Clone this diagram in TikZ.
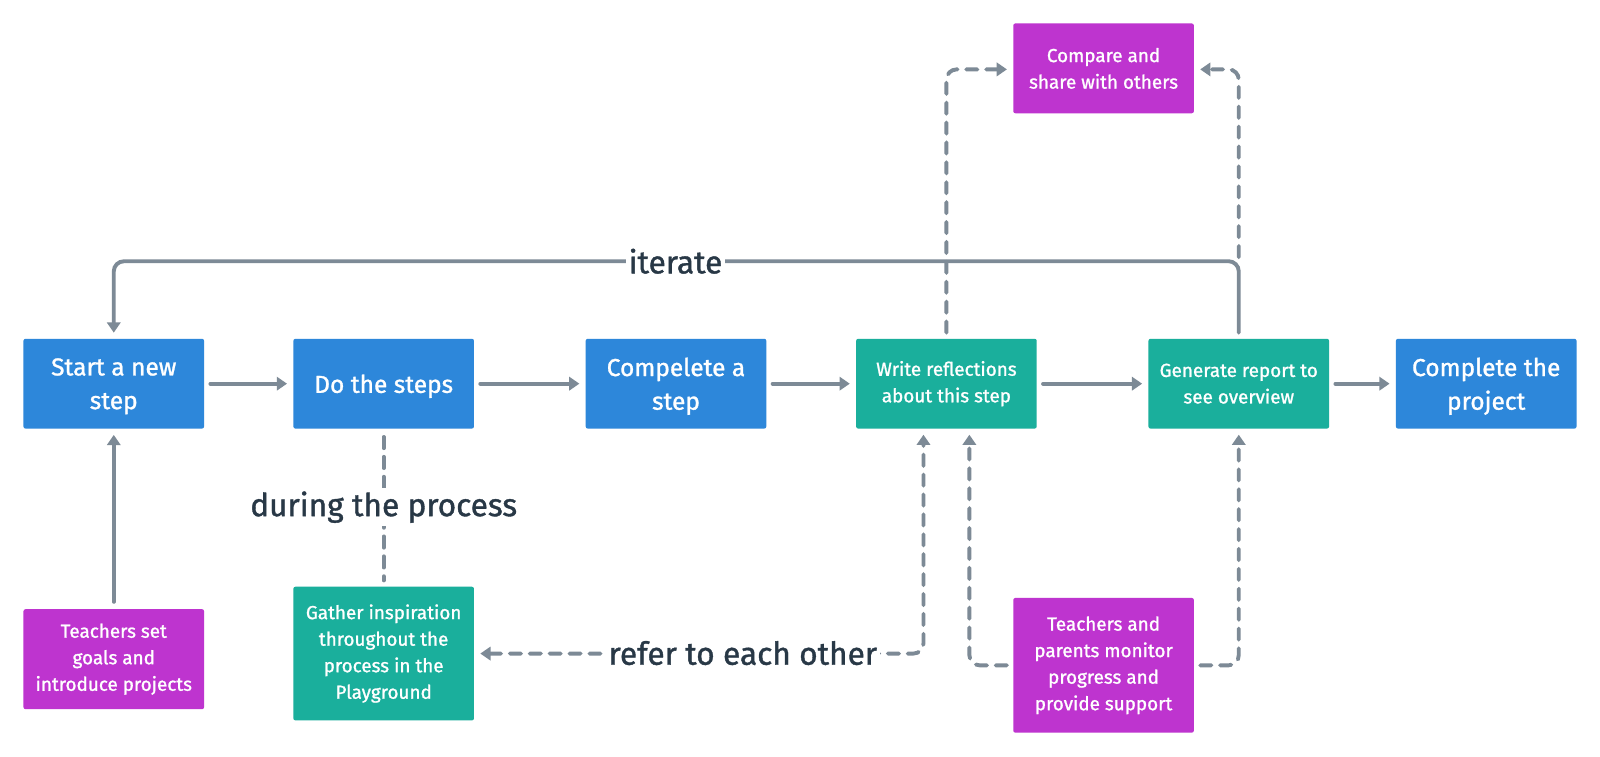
\documentclass[tikz,border=0pt]{standalone}
\usepackage{fontspec}
\setmainfont{Fira Sans}[FakeBold=1.2]
\usetikzlibrary{arrows.meta}
\definecolor{cblue}{HTML}{2D87DA}
\definecolor{cteal}{HTML}{1AAF9C}
\definecolor{cpurp}{HTML}{BE34CF}
\definecolor{cline}{HTML}{7D8A96}
\definecolor{ctext}{HTML}{283846}
\tikzset{
  box/.style={rectangle, rounded corners=2pt, minimum width=177pt, minimum height=88pt,
    text=white, align=center, inner sep=0pt},
  bigbox/.style={box, font=\fontsize{24}{33}\selectfont, text depth=0pt},
  smallbox/.style={box, font=\fontsize{18.5}{26}\selectfont},
  bluebox/.style={bigbox, fill=cblue},
  tealbox/.style={smallbox, fill=cteal},
  purpbox/.style={smallbox, fill=cpurp},
  conn/.style={draw=cline, line width=3.8pt, line cap=round, -{Triangle[length=10pt,width=13pt]}},
  dconn/.style={conn, dash pattern=on 11pt off 8.5pt},
  lbl/.style={fill=white, text=ctext, font=\fontsize{31}{34}\selectfont, inner sep=3pt},
}
\begin{document}
\begin{tikzpicture}[x=1pt,y=-1pt]
\path[fill=white] (0,0) rectangle (1600,756);
\begin{scope}[overlay, transform canvas={scale=1.0204}]
% nodes
\node[bluebox] (start) at (111.5,376) {Start a new\\step};
\node[bluebox] (do) at (376,376) {Do the steps};
\node[bluebox] (comp) at (662.5,376) {Compelete a\\step};
\node[tealbox] (write) at (927.5,376) {Write reflections\\about this step};
\node[tealbox] (gen) at (1214,376) {Generate report to\\see overview};
\node[bluebox] (proj) at (1456.5,376) {Complete the\\project};
\node[purpbox] (share) at (1081.5,67) {Compare and\\share with others};
\node[purpbox, minimum height=98pt] (goals) at (111.5,646) {Teachers set\\goals and\\introduce projects};
\node[tealbox, minimum height=131pt] (gath) at (376,640.5) {Gather inspiration\\throughout the\\process in the\\Playground};
\node[purpbox, minimum height=132pt] (mon) at (1081.5,652) {Teachers and\\parents monitor\\progress and\\provide support};
% coordinates
\coordinate (wtop) at (927.5,332);
\coordinate (gtop) at (1214,332);
\coordinate (stop) at (111.5,332);
\coordinate (wbotL) at (905,420);
\coordinate (wbotR) at (950,420);
\coordinate (gbot) at (1214,420);
% main flow
\draw[conn, shorten <=6pt, shorten >=6pt] (start.east) -- (do.west);
\draw[conn, shorten <=6pt, shorten >=6pt] (do.east) -- (comp.west);
\draw[conn, shorten <=6pt, shorten >=6pt] (comp.east) -- (write.west);
\draw[conn, shorten <=6pt, shorten >=6pt] (write.east) -- (gen.west);
\draw[conn, shorten <=6pt, shorten >=6pt] (gen.east) -- (proj.west);
\draw[conn, shorten <=7pt, shorten >=6pt] (goals.north) -- (start.south);
% dashed to share
\draw[dconn, shorten <=6pt, shorten >=6pt, rounded corners=10pt] (wtop) -- (927.5,68) -- (share.west |- 0,68);
\draw[dconn, shorten <=80pt, shorten >=6pt, rounded corners=10pt] (gtop) -- (1214,68) -- (share.east |- 0,68);
% iterate
\draw[conn, shorten <=6pt, shorten >=6pt, rounded corners=10pt] (gtop) -- (1214,256) -- (111.5,256) -- (stop);
\node[lbl] (it) at (662,256) {iterate};
% during the process
\draw[draw=cline, line width=3.8pt, line cap=round, dash pattern=on 11pt off 8.5pt, shorten <=8pt, shorten >=6pt] (do.south) -- (gath.north);
\node[lbl] (dur) at (376,497) {during the process};
% refer to each other
\draw[dconn, {Triangle[length=10pt,width=13pt]}-{Triangle[length=10pt,width=13pt]}, shorten <=6pt, shorten >=6pt, rounded corners=10pt] (gath.east) -- (905,640.5) -- (wbotL);
\node[lbl] (ref) at (728,640) {refer to each other};
% monitor
\draw[dconn, shorten <=6pt, shorten >=6pt, rounded corners=10pt] (mon.west |- 0,652) -- (950,652) -- (wbotR);
\draw[dconn, shorten <=6pt, shorten >=6pt, rounded corners=10pt] (mon.east |- 0,652) -- (1214,652) -- (gbot);
\end{scope}
\end{tikzpicture}
\end{document}
